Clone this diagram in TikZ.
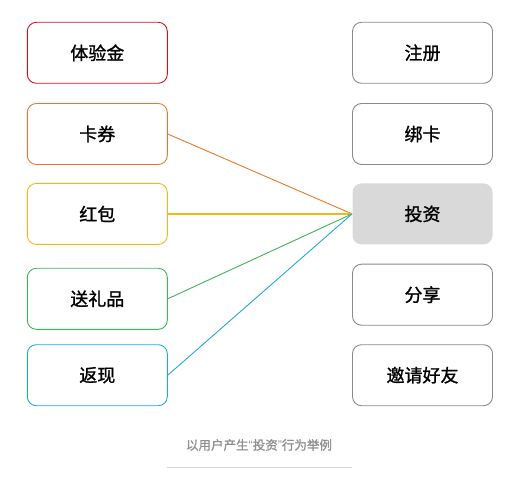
\documentclass[tikz,border=0pt]{standalone}
\usepackage{fontspec}
\setmainfont{Noto Sans CJK SC}[FakeBold=1.2]
\newfontfamily\quotefont{Liberation Sans}
\usetikzlibrary{positioning}
\definecolor{cred}{HTML}{D0121F}
\definecolor{corange}{HTML}{E8792A}
\definecolor{cyellow}{HTML}{F2BA10}
\definecolor{cgreen}{HTML}{3DB55A}
\definecolor{cblue}{HTML}{20A9DC}
\definecolor{cgrey}{HTML}{8A8A8A}
\definecolor{cfill}{HTML}{D9D9D9}
\definecolor{ccap}{HTML}{8F8F8F}
\definecolor{crule}{HTML}{D6D6D6}
\tikzset{
  box/.style={rounded corners=9pt, minimum width=140pt, minimum height=61pt, inner sep=0pt, line width=0.9pt, font=\fontsize{18}{21}\selectfont},
  link/.style={line width=0.9pt},
}
\begin{document}
\begin{tikzpicture}[x=1pt,y=-1pt]
\useasboundingbox (0,0) rectangle (522,478);
\node[box, draw=cred]    (tiyan)  at (97.3,52.8)  {体验金};
\node[box, draw=corange] (kaquan) at (97.3,134)   {卡券};
\node[box, draw=cyellow] (hongbao) at (97.3,213.9) {红包};
\node[box, draw=cgreen]  (lipin)  at (97.3,298.8) {送礼品};
\node[box, draw=cblue]   (fanxian) at (97.3,375.2) {返现};
\node[box, draw=cgrey]   (zhuce)  at (422.5,52.8) {注册};
\node[box, draw=cgrey]   (bangka) at (422.5,134)  {绑卡};
\node[box, fill=cfill]   (touzi)  at (422.5,213.9) {投资};
\node[box, draw=cgrey]   (fenxiang) at (422.5,294.7) {分享};
\node[box, draw=cgrey]   (yaoqing) at (422.5,375.2) {邀请好友};
\draw[link, corange] (kaquan.east) -- (touzi.west);
\draw[link, cyellow, line width=1.5pt] (hongbao.east) -- (touzi.west);
\draw[link, cgreen]  (lipin.east) -- (touzi.west);
\draw[link, cblue]   (fanxian.east) -- (touzi.west);
\node[text=ccap, font=\fontsize{12.5}{15}\selectfont, inner sep=0pt] (cap) at (259,445) {以用户产生{\quotefont“}投资{\quotefont”}行为举例};
\coordinate (rl) at (167,467);
\coordinate (rr) at (352,467);
\draw[crule, line width=0.8pt] (rl) -- (rr);
\end{tikzpicture}
\end{document}
